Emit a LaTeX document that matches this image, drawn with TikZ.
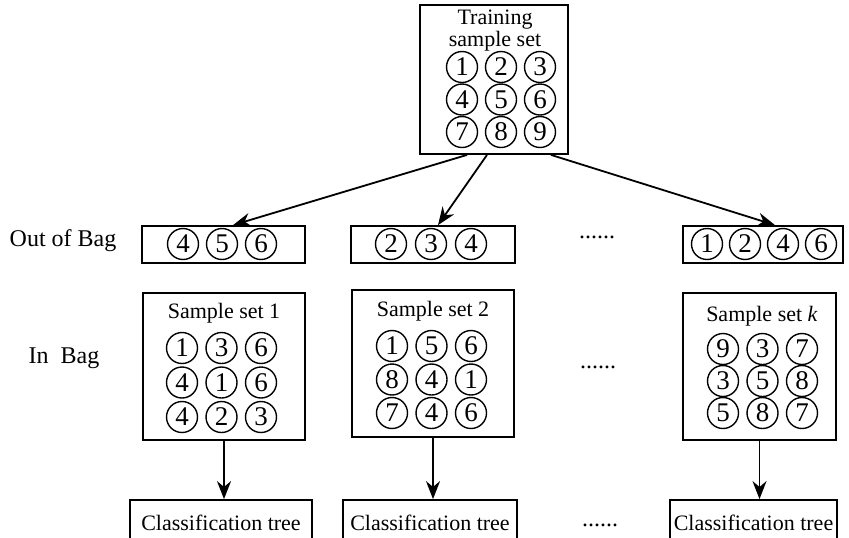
\documentclass[tikz,border=0pt]{standalone}
\usepackage{fontspec}
\setmainfont{Liberation Serif}
\usetikzlibrary{arrows.meta, positioning}

\begin{document}
\begin{tikzpicture} [
	x=0.5pt, y=-0.5pt, % one unit is one pixel of the reference
	>={Stealth[length=9pt, width=7pt]}, % bold arrow heads
	draw2/.style={->, line width=0.9pt}, % the directed edges
	box/.style={draw, line width=0.9pt, inner sep=0pt, font=\fontsize{11}{12}\selectfont}, % the rectangles
	ball/.style={circle, draw, line width=0.7pt, inner sep=0pt, minimum size=15.5pt, font=\fontsize{13.5}{13.5}\selectfont}, % one sample
	lbl/.style={font=\fontsize{11}{12}\selectfont}, % texts in the boxes
	side/.style={font=\fontsize{12}{14}\selectfont}, % texts on the left
	]
	\clip (0,0) rectangle (849,537);

	% training sample set
	\node[box, minimum width=74pt, minimum height=74.5pt] (train) at (494,79.5) {};
	\node[lbl, align=center, font=\fontsize{11}{9}\selectfont] (traintext) at (495,31) {Training\\sample set};
	\foreach \d [count=\i from 0] in {1,...,9}
		\node[ball] (t\d) at ({462+39*mod(\i,3)}, {67+32.5*int(\i/3)}) {\d};

	% out of bag
	\node[side] (ooblabel) at (63,241) {Out of Bag};
	\node[box, minimum width=81.5pt, minimum height=18.5pt] (oob1) at (223.5,244.5) {};
	\node[box, minimum width=82pt, minimum height=18.5pt] (oob2) at (433,244.5) {};
	\node[box, minimum width=80pt, minimum height=18.5pt] (oobk) at (763,244.5) {};
	\foreach \d [count=\i from 0] in {4,5,6}
		\node[ball] (oa\i) at ({183+39*\i},244) {\d};
	\foreach \d [count=\i from 0] in {2,3,4}
		\node[ball] (ob\i) at ({391+40*\i},244) {\d};
	\foreach \d [count=\i from 0] in {1,2,4,6}
		\node[ball] (ok\i) at ({707+38*\i},244) {\d};
	\node[side] (dots1) at (597,237) {......};

	% in bag
	\node[side] (baglabel) at (64,358) {In~ Bag};
	\node[box, minimum width=81pt, minimum height=73.5pt] (bag1) at (224,366.5) {};
	\node[box, minimum width=81pt, minimum height=73.5pt] (bag2) at (433,363.5) {};
	\node[box, minimum width=76.5pt, minimum height=73.5pt] (bagk) at (759.5,366.5) {};
	\node[lbl] (bag1text) at (224,313) {Sample set 1};
	\node[lbl] (bag2text) at (433,311) {Sample set 2};
	\node[lbl] (bagktext) at (762,316) {Sample set \textit{k}};
	\foreach \d [count=\i from 0] in {1,3,6,4,1,6,4,2,3}
		\node[ball] (ba\i) at ({182+39.5*mod(\i,3)}, {348+34.5*int(\i/3)}) {\d};
	\foreach \d [count=\i from 0] in {1,5,6,8,4,1,7,4,6}
		\node[ball] (bb\i) at ({392+39.5*mod(\i,3)}, {346+33.5*int(\i/3)}) {\d};
	\foreach \d [count=\i from 0] in {9,3,7,3,5,8,5,8,7}
		\node[ball] (bk\i) at ({723+39.5*mod(\i,3)}, {349+32*int(\i/3)}) {\d};
	\node[side] (dots2) at (598,367) {......};

	% classification trees
	\node[box, minimum width=91pt, minimum height=22.5pt] (tree1) at (221,522.5) {Classification tree};
	\node[box, minimum width=87pt, minimum height=22.5pt] (tree2) at (430,522.5) {Classification tree};
	\node[box, minimum width=83.5pt, minimum height=22.5pt] (treek) at (753.5,522.5) {Classification tree};
	\node[side] (dots3) at (600,525) {......};

	% bootstrap draws
	\draw[draw2] ([xshift=-13.5pt]train.south) -- ([xshift=4.75pt]oob1.north);
	\draw[draw2] ([xshift=-3.5pt]train.south) -- ([xshift=2.5pt]oob2.north);
	\draw[draw2] ([xshift=28.5pt]train.south) -- ([xshift=6pt]oobk.north);

	% one tree per bag
	\draw[draw2] (bag1.south) -- (bag1.south |- tree1.north);
	\draw[draw2] (bag2.south) -- (bag2.south |- tree2.north);
	\draw[draw2] (bagk.south) -- (bagk.south |- treek.north);
\end{tikzpicture}
\end{document}
